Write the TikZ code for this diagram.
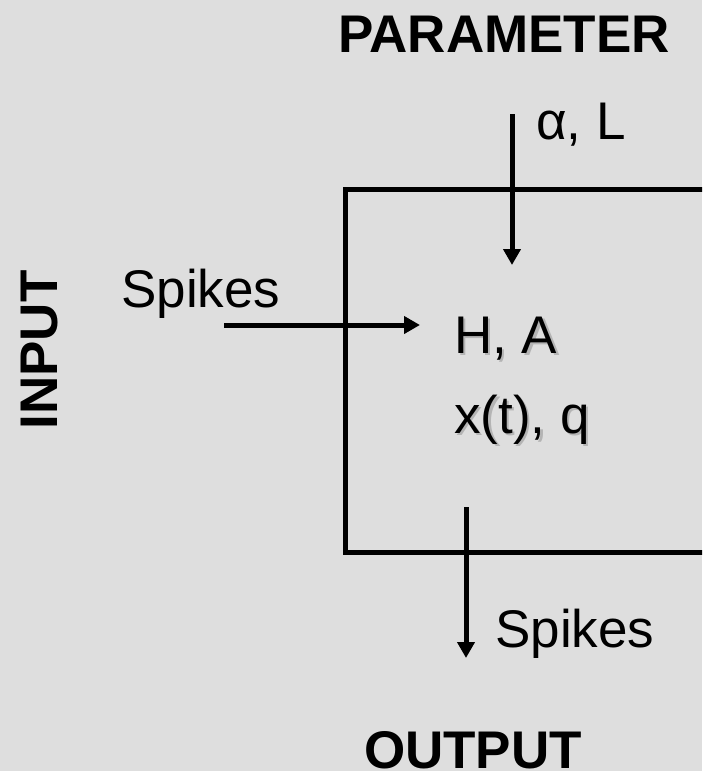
\documentclass[tikz,border=0pt]{standalone}
\usepackage{fontspec}
\setmainfont{Liberation Sans}
\usetikzlibrary{arrows.meta}
\definecolor{bg}{HTML}{DEDEDE}
\definecolor{shadowc}{HTML}{B4B4B4}
\begin{document}
\begin{tikzpicture}[x=1pt,y=-1pt,
  txt/.style={inner sep=0pt, font=\fontsize{53}{60}\selectfont},
  bold/.style={inner sep=0pt, font=\fontsize{53}{60}\selectfont\bfseries},
  shadowtxt/.style={txt, text=shadowc},
  arr/.style={line width=5pt, -{Triangle[length=16pt,width=17pt]}},
  boxline/.style={line width=5pt}]
\fill[bg] (0,0) rectangle (702,771);
\useasboundingbox (0,0) rectangle (702,771);
\begin{scope}
  \clip (0,0) rectangle (702,771);
  \draw[boxline] (720,189) -- (345,189) -- (345,552) -- (720,552);
\end{scope}
% titles
\node[bold, anchor=base] (param) at (504,52) {PARAMETER};
\node[bold, anchor=base] (outlbl) at (473,768) {OUTPUT};
\node[bold, anchor=base, rotate=90] (inlbl) at (57,350) {INPUT};
% labels
\node[txt, anchor=base west] (spin) at (121,307) {Spikes};
\node[txt, anchor=base west] (alpha) at (536,139) {α, L};
\node[txt, anchor=base west] (spout) at (495,647) {Spikes};
\node[shadowtxt, anchor=base west] (hashadow) at (456.5,355.5) {H, A};
\node[txt, anchor=base west] (ha) at (454,353) {H, A};
\node[shadowtxt, anchor=base west] (xqshadow) at (456.5,435.5) {x(t), q};
\node[txt, anchor=base west] (xq) at (454,433) {x(t), q};
% arrows
\coordinate (pstart) at (512,114);
\coordinate (ptip) at (512,265);
\coordinate (istart) at (224,325);
\coordinate (itip) at (420,325);
\coordinate (ostart) at (466,507);
\coordinate (otip) at (466,658);
\draw[arr] (pstart) -- (ptip);
\draw[arr] (istart) -- (itip);
\draw[arr] (ostart) -- (otip);
\end{tikzpicture}
\end{document}
